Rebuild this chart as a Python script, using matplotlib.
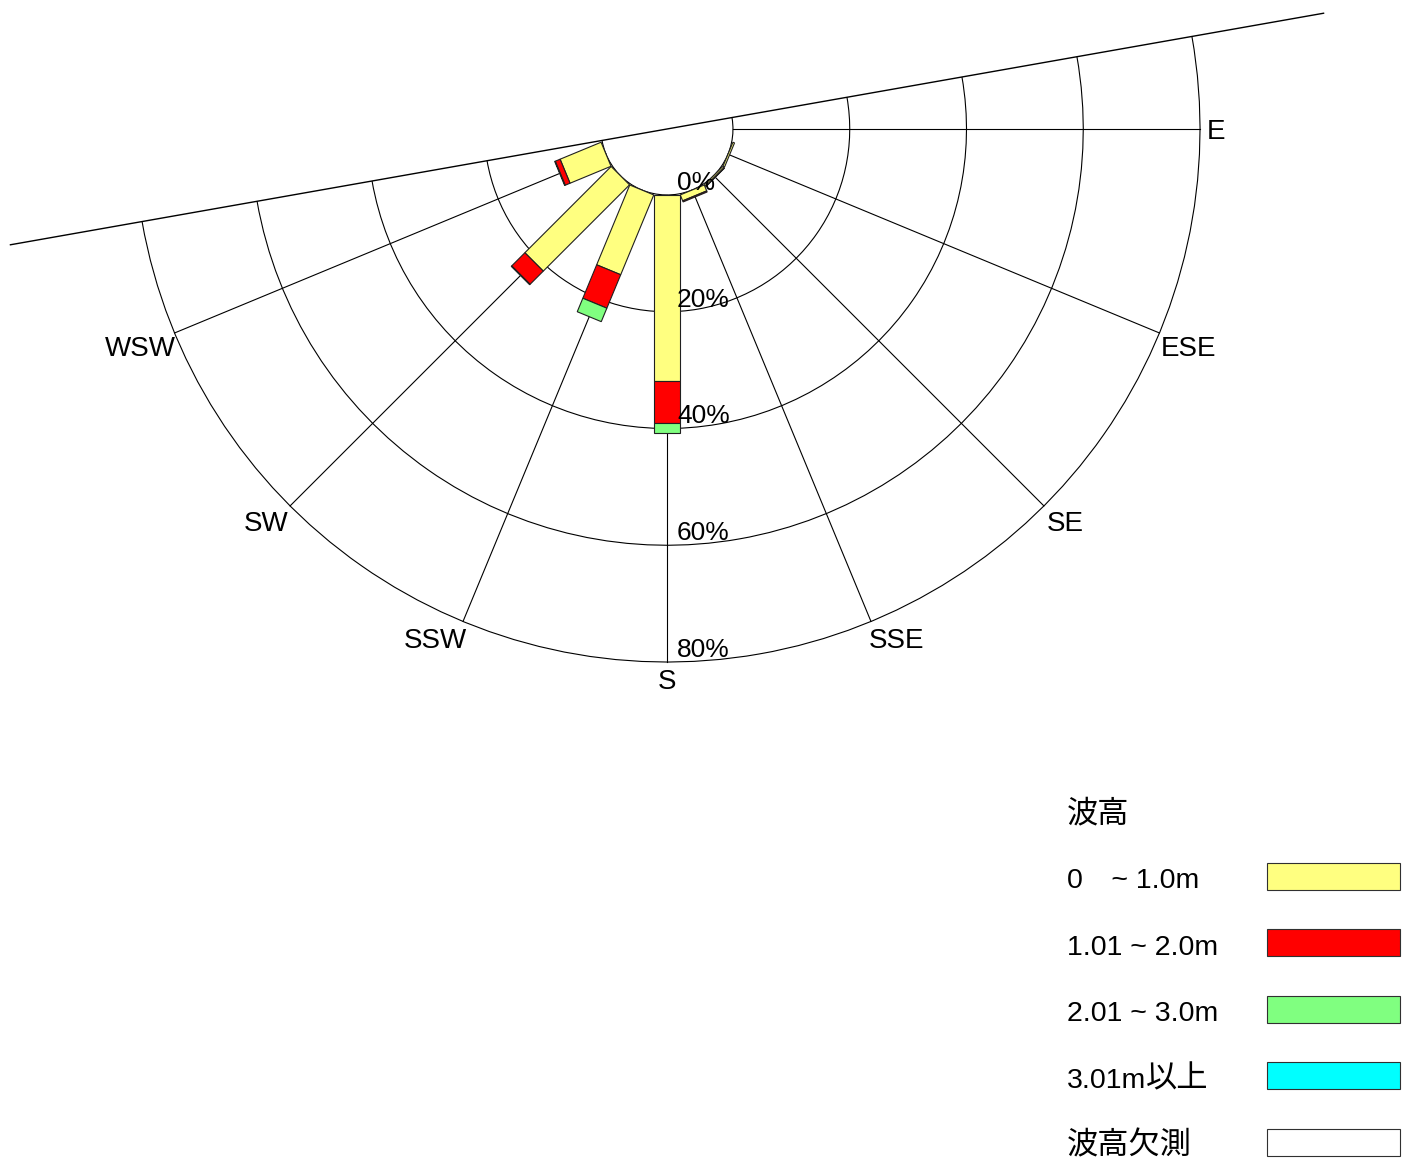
import re
import numpy as np
import matplotlib.pyplot as plt
from matplotlib.patches import Arc, Rectangle
from matplotlib.transforms import Affine2D

# wave rose data (% of observations), one value per direction
directions = ['E', 'ESE', 'SE', 'SSE', 'S', 'SSW', 'SW', 'WSW']
bearings = [90.0, 112.5, 135.0, 157.5, 180.0, 202.5, 225.0, 247.5]
h_0_1 = [0.0, 0.3, 0.3, 1.1, 31.8, 14.8, 20.9, 7.6]
h_1_2 = [0.0, 0.0, 0.1, 0.2, 7.3, 6.2, 3.2, 0.9]
h_2_3 = [0.0, 0.0, 0.0, 0.0, 1.7, 2.5, 0.1, 0.1]
h_3_up = [0.0, 0.0, 0.0, 0.0, 0.0, 0.0, 0.0, 0.0]
h_missing = [0.0, 0.0, 0.0, 0.0, 0.0, 0.0, 0.0, 0.0]

ring_values = [0, 20, 40, 60, 80]
ring_labels = ['0%', '20%', '40%', '60%', '80%']

legend_title = '波高'
legend_labels = ['0\u3000~ 1.0m', '1.01 ~ 2.0m', '2.01 ~ 3.0m', '3.01m以上', '波高欠測']
legend_colors = ['#FFFF80', '#FF0000', '#80FF80', '#00FFFF', '#FFFFFF']

W, H, DPI = 1405, 1162, 100
cx_px, cy_px = 667, 129      # rose centre in pixels (from top-left)
px_per_pct = 5.838
hole = 11.3                  # radius of the 0% circle, in % units
rmax = 80
sector_lo, sector_hi = 80, 260   # compass range kept below the coast line
coast_len = 114.2
bar_w = 26 / px_per_pct

label_font = ['Liberation Sans', 'DejaVu Sans']
legend_font = ['Liberation Sans', 'Noto Sans CJK JP', 'DejaVu Sans']
cjk_font = ['Noto Sans CJK JP', 'DejaVu Sans']


def unit(b):
    b = np.radians(b)
    return np.sin(b), np.cos(b)


fig = plt.figure(figsize=(W / DPI, H / DPI), dpi=DPI)
ax = fig.add_axes([0, 0, 1, 1])
ax.set_xlim(-cx_px / px_per_pct, (W - cx_px) / px_per_pct)
ax.set_ylim(-(H - cy_px) / px_per_pct, cy_px / px_per_pct)
ax.axis('off')

# rings
for r in ring_values:
    ax.add_patch(Arc((0, 0), 2 * (hole + r), 2 * (hole + r),
                     theta1=90 - sector_hi, theta2=90 - sector_lo,
                     color='black', lw=0.8, zorder=1))

# spokes
for b in bearings:
    ux, uy = unit(b)
    ax.plot([hole * ux, (hole + rmax) * ux], [hole * uy, (hole + rmax) * uy],
            color='black', lw=0.8, zorder=1)

# coast line
ux, uy = unit(sector_lo)
ax.plot([-coast_len * ux, coast_len * ux], [-coast_len * uy, coast_len * uy],
        color='black', lw=1.0, zorder=1)

# stacked bars (rectangles along each direction)
classes = [h_0_1, h_1_2, h_2_3, h_3_up, h_missing]
for i, b in enumerate(bearings):
    rot = Affine2D().rotate_deg(90 - b) + ax.transData
    start = hole
    for vals, col in zip(classes, legend_colors):
        v = vals[i]
        if v <= 0:
            continue
        ax.add_patch(Rectangle((start, -bar_w / 2), v, bar_w, transform=rot,
                               facecolor=col, edgecolor='#202020', lw=0.8, zorder=3))
        start += v

# ring labels on the S spoke
for r, lab in zip(ring_values, ring_labels):
    ax.text(10 / px_per_pct, -(hole + r) + 5 / px_per_pct, lab,
            ha='left', va='baseline', fontsize=19, family=label_font, zorder=4)

# direction labels
fig.canvas.draw()
renderer = fig.canvas.get_renderer()
for d, b in zip(directions, bearings):
    ux, uy = unit(b)
    t = ax.text(0, 0, d, ha='center', va='center', fontsize=20, family=label_font, zorder=4)
    hw = t.get_window_extent(renderer).width / 2
    sx, sy = np.sign(np.round(ux, 6)), np.sign(np.round(uy, 6))
    px = 540 * ux + sx * (0.7 * hw + 3)
    py = 540 * uy + sy * 10 - 3
    t.set_position((px / px_per_pct, py / px_per_pct))


# legend
def legend_text(x_px, base_px, s):
    # latin runs in Liberation Sans, CJK runs a little larger
    for run in re.findall(r'[\u3040-\u9fff]+|[^\u3040-\u9fff]+', s):
        if re.match(r'[\u3040-\u9fff]', run):
            t = fig.text(x_px / W, 1 - base_px / H, run, ha='left', va='baseline',
                         fontsize=22.5, family=cjk_font)
        else:
            t = fig.text(x_px / W, 1 - base_px / H, run, ha='left', va='baseline',
                         fontsize=20.5, family=legend_font)
        x_px += t.get_window_extent(renderer).width


lx_text, lx_box, box_w, box_h = 1067, 1267, 133, 27
legend_text(lx_text, 822, legend_title)
for i, (lab, col) in enumerate(zip(legend_labels, legend_colors)):
    yc = 876 + 66.6 * i
    fig.add_artist(Rectangle((lx_box / W, 1 - (yc + box_h / 2) / H), box_w / W, box_h / H,
                             transform=fig.transFigure, facecolor=col,
                             edgecolor='#303030', lw=0.8))
    legend_text(lx_text, yc + 12, lab)

fig.savefig('out.png', dpi=DPI)
